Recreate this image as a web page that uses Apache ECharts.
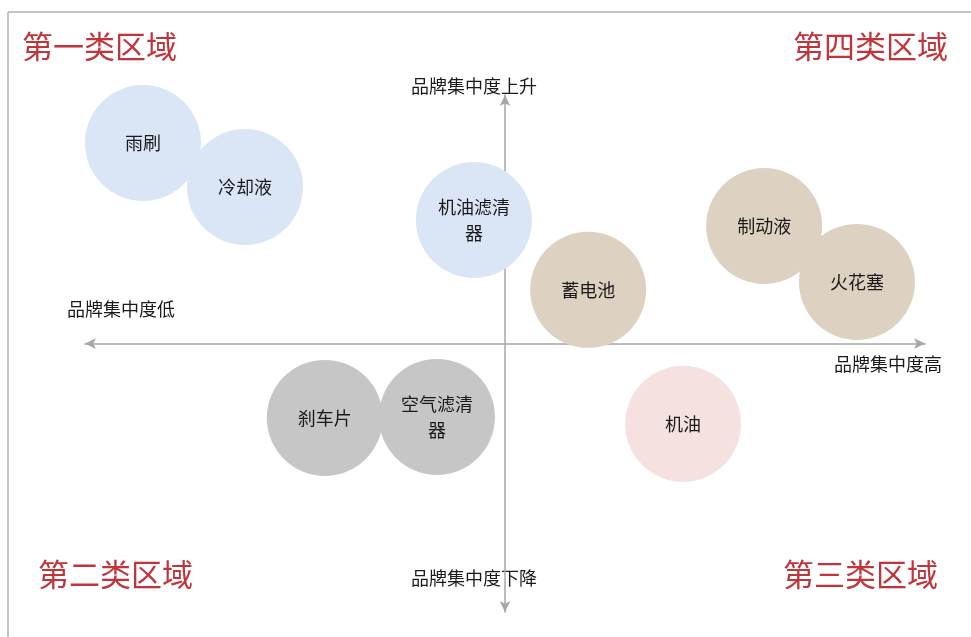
<!DOCTYPE html>
<html>
<head>
<meta charset="UTF-8">
<title></title>
<script src="https://cdn.jsdelivr.net/npm/echarts@6/dist/echarts.min.js"></script>
<style type="text/css">
	* {margin: 0; padding: 0;}
	body {background: #fff;}
</style>
</head>
<body>
<div id="chart" style="width:971px;height:637px"></div>
<script type="text/javascript">
// 品类名称
var names = ['雨刷', '冷却液', '机油滤清\n器', '蓄电池', '制动液', '火花塞', '刹车片', '空气滤清\n器', '机油'];
// 品牌集中度（横轴：低 -> 高）
var xValues = [-86.2, -61.9, -7.4, 19.8, 61.7, 83.8, -42.9, -16.2, 42.4];
// 品牌集中度变化（纵轴：下降 -> 上升）
var yValues = [80.7, 63.0, 49.7, 21.6, 47.3, 24.8, -29.9, -29.5, -32.3];
// 分组：0 蓝 1 棕 2 灰 3 粉
var groups = [0, 0, 0, 1, 1, 1, 2, 2, 3];
var groupColors = ['#dae5f5', '#ddd1c2', '#c6c6c6', '#f4e1e0'];
// 区域名称
var zoneNames = ['第一类区域', '第四类区域', '第二类区域', '第三类区域'];
// 轴端名称
var axisNames = ['品牌集中度上升', '品牌集中度下降', '品牌集中度低', '品牌集中度高'];

var chart = echarts.init(document.getElementById('chart'));

var points = [];
for (var i = 0; i < names.length; i++) {
	points.push({
		name: names[i],
		value: [xValues[i], yValues[i]],
		itemStyle: {color: groupColors[groups[i]]}
	});
}

var axisLineStyle = {color: '#a6a6a6', width: 1.5};
var zoneStyle = {fill: '#c0353c', font: '31px "Noto Sans CJK SC"'};
var nameStyle = {fill: '#1a1a1a', font: '18px "Noto Sans CJK SC"'};

var option = {
	animation: false,
	grid: {left: 85, right: 46, top: 95, bottom: 25},
	xAxis: {
		type: 'value',
		min: -100,
		max: 100,
		splitLine: {show: false},
		axisTick: {show: false},
		axisLabel: {show: false},
		axisLine: {
			show: true,
			onZero: true,
			symbol: ['arrow', 'arrow'],
			symbolSize: [8, 11],
			lineStyle: axisLineStyle
		}
	},
	yAxis: {
		type: 'value',
		min: -108,
		max: 100,
		splitLine: {show: false},
		axisTick: {show: false},
		axisLabel: {show: false},
		axisLine: {
			show: true,
			onZero: true,
			symbol: ['arrow', 'arrow'],
			symbolSize: [8, 11],
			lineStyle: axisLineStyle
		}
	},
	series: [{
		type: 'scatter',
		symbolSize: 116,
		data: points,
		itemStyle: {opacity: 1},
		label: {
			show: true,
			position: 'inside',
			formatter: '{b}',
			color: '#1a1a1a',
			fontSize: 18,
			lineHeight: 26,
			fontFamily: 'Noto Sans CJK SC'
		}
	}],
	graphic: [
		// 外框
		{type: 'line', shape: {x1: 8, y1: 12, x2: 971, y2: 12}, style: {stroke: '#b0b0b0', lineWidth: 1.5}},
		{type: 'line', shape: {x1: 8, y1: 12, x2: 8, y2: 637}, style: {stroke: '#b0b0b0', lineWidth: 1.5}},
		// 区域名称
		{type: 'text', left: 22, top: 31, style: {text: zoneNames[0], fill: zoneStyle.fill, font: zoneStyle.font}},
		{type: 'text', left: 793, top: 31, style: {text: zoneNames[1], fill: zoneStyle.fill, font: zoneStyle.font}},
		{type: 'text', left: 38, top: 559, style: {text: zoneNames[2], fill: zoneStyle.fill, font: zoneStyle.font}},
		{type: 'text', left: 783, top: 559, style: {text: zoneNames[3], fill: zoneStyle.fill, font: zoneStyle.font}},
		// 轴端名称
		{type: 'text', left: 411, top: 77, style: {text: axisNames[0], fill: nameStyle.fill, font: nameStyle.font}},
		{type: 'text', left: 411, top: 569, style: {text: axisNames[1], fill: nameStyle.fill, font: nameStyle.font}},
		{type: 'text', left: 67, top: 300, style: {text: axisNames[2], fill: nameStyle.fill, font: nameStyle.font}},
		{type: 'text', left: 834, top: 355, style: {text: axisNames[3], fill: nameStyle.fill, font: nameStyle.font}}
	]
};

chart.setOption(option);
</script>
</body>
</html>
